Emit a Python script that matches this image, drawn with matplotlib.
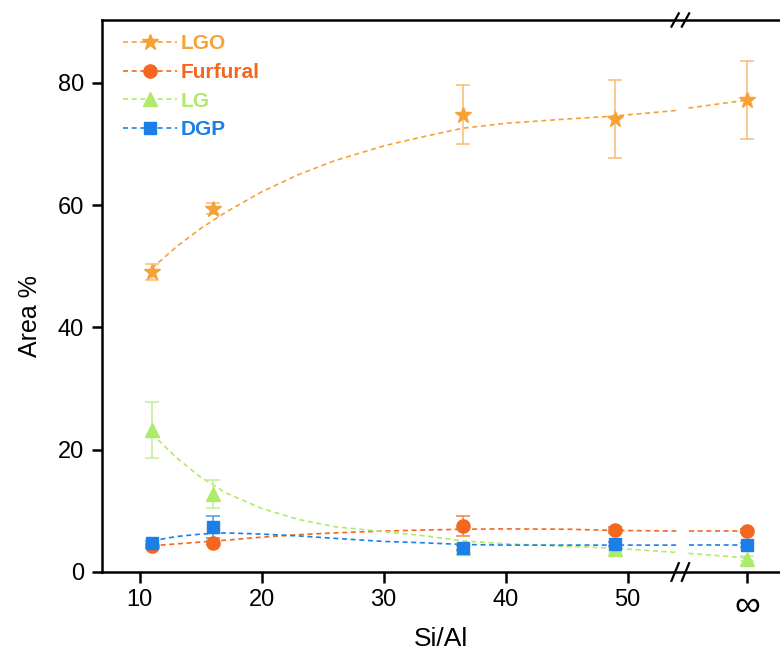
import numpy as np
import matplotlib
matplotlib.use('Agg')
import matplotlib.pyplot as plt
from matplotlib.lines import Line2D
from matplotlib.transforms import blended_transform_factory

plt.rcParams['font.family'] = ['Liberation Sans', 'DejaVu Sans']

# ---------------- data ----------------
si_al = [11, 16, 36.5, 49, np.inf]
x_tick_values = [10, 20, 30, 40, 50]
inf_label = '\u221e'
inf_pos = 59.8          # where the "∞" point sits on the broken axis
break_pos = 54.5        # location of the axis break

lgo = [49.1, 59.4, 74.8, 74.1, 77.2]
lgo_err = [1.3, 0.9, 4.8, 6.4, 6.4]
furfural = [4.2, 4.7, 7.5, 6.8, 6.7]
furfural_err = [0.3, 0.3, 1.6, 0.5, 0.3]
lg = [23.2, 12.8, 3.9, 3.7, 2.2]
lg_err = [4.6, 2.3, 0.4, 0.4, 0.4]
dgp = [4.8, 7.4, 4.0, 4.6, 4.4]
dgp_err = [0.3, 1.8, 0.4, 0.3, 0.3]

# trend curves (left of the break, then the short piece before ∞)
fit_x_left = [11, 13, 15, 17, 20, 23, 26, 30, 33, 36.5, 40, 45, 49, 54]
lgo_fit_left = [49.7, 53.2, 56.2, 58.8, 62.2, 65.0, 67.3, 69.7, 71.1, 72.6, 73.4, 74.1, 74.6, 75.5]
furfural_fit_left = [4.3, 4.6, 4.9, 5.2, 5.7, 6.1, 6.4, 6.7, 6.85, 7.0, 7.05, 7.0, 6.8, 6.7]
lg_fit_left = [22.6, 18.7, 15.5, 13.0, 10.4, 8.6, 7.4, 6.6, 6.0, 5.1, 4.6, 4.2, 3.9, 3.2]
dgp_fit_left = [5.1, 5.8, 6.2, 6.4, 6.2, 5.9, 5.5, 5.0, 4.8, 4.5, 4.4, 4.4, 4.4, 4.4]
fit_x_right = [55, 59.8]
lgo_fit_right = [75.9, 77.2]
furfural_fit_right = [6.7, 6.7]
lg_fit_right = [3.05, 2.3]
dgp_fit_right = [4.4, 4.4]

names = ['LGO', 'Furfural', 'LG', 'DGP']
colors = ['#F7A234', '#F5661E', '#AEEA6C', '#1C7FE8']
err_colors = ['#F5C27C', '#F58A55', '#C6F0A0', '#5C9EEA']
markers = ['*', 'o', '^', 's']
msizes = [12, 9.5, 10, 8]

# ---------------- figure ----------------
fig = plt.figure(figsize=(7.8, 6.59), dpi=100)
ax = fig.add_axes([102 / 780, 87 / 659, 1 - 102 / 780, (572 - 20) / 659])

xpos = [inf_pos if np.isinf(v) else v for v in si_al]
series = [(lgo, lgo_err, lgo_fit_left, lgo_fit_right),
          (furfural, furfural_err, furfural_fit_left, furfural_fit_right),
          (lg, lg_err, lg_fit_left, lg_fit_right),
          (dgp, dgp_err, dgp_fit_left, dgp_fit_right)]

dash = (0, (3.0, 2.2))
for i in range(4):
    vals, errs, fl, fr = series[i]
    ax.plot(fit_x_left, fl, ls=dash, lw=1.2, color=colors[i], zorder=2)
    ax.plot(fit_x_right, fr, ls=dash, lw=1.2, color=colors[i], zorder=2)
    ax.errorbar(xpos, vals, yerr=errs, fmt='none', ecolor=err_colors[i],
                elinewidth=1.2, capsize=5, capthick=1.2, zorder=3)
    ax.plot(xpos, vals, ls='none', marker=markers[i], ms=msizes[i],
            color=colors[i], mec=colors[i], zorder=4 + i)

ax.set_xlim(6.9, 62.5)
ax.set_ylim(0, 90.3)
ax.set_xticks(x_tick_values + [inf_pos])
ax.set_xticklabels([str(v) for v in x_tick_values] + [inf_label])
ax.set_yticks([0, 20, 40, 60, 80])
ax.tick_params(axis='both', direction='out', width=1.8, labelsize=17)
ax.tick_params(axis='y', length=7, pad=6)
ax.tick_params(axis='x', length=8, pad=4)
ax.get_xticklabels()[-1].set_fontsize(26)
for s in ['left', 'bottom', 'top']:
    ax.spines[s].set_linewidth(1.8)
ax.spines['right'].set_visible(False)

ax.set_xlabel('Si/Al', fontsize=19)
ax.set_ylabel('Area %', fontsize=18)
ax.xaxis.set_label_coords(0.5, -0.1)
ax.yaxis.set_label_coords(-0.089, 0.464)

# axis break marks
tr = blended_transform_factory(ax.transData, ax.transAxes)
dx = 0.3
for yb, hh in [(0.0, 0.016), (1.0, 0.012)]:
    for xb in [break_pos - 0.6, break_pos + 0.25]:
        ax.plot([xb - dx, xb + dx], [yb - hh, yb + hh], color='black', lw=1.6,
                transform=tr, clip_on=False, zorder=10)

# legend
handles = [Line2D([], [], ls=dash, lw=1.2, color=colors[i], marker=markers[i],
                  ms=msizes[i], mec=colors[i]) for i in range(4)]
leg = ax.legend(handles, names, loc='upper left', bbox_to_anchor=(0.003, 1.008), frameon=False,
                handlelength=2.6, handletextpad=0.2, labelspacing=0.46,
                prop={'weight': 'bold', 'size': 15})
for t, c in zip(leg.get_texts(), colors):
    t.set_color(c)

fig.savefig('out.png', dpi=100)
